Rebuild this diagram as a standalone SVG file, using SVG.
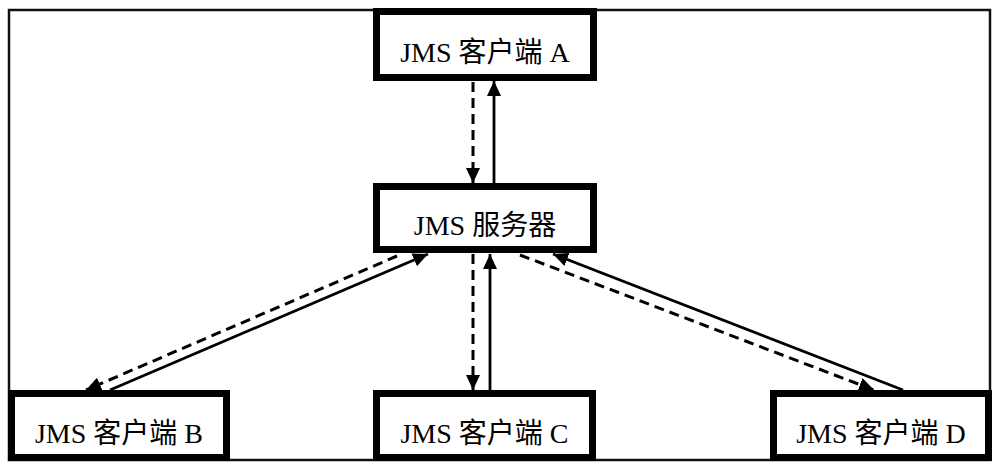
<svg xmlns="http://www.w3.org/2000/svg" width="1000" height="471" viewBox="0 0 1000 471">
<style>
.frame{fill:none;stroke:#111;stroke-width:2.5}
.box{fill:#fff;stroke:#000;stroke-width:7}
.lbl{font-family:"Liberation Serif","Noto Sans CJK SC",serif;font-size:28px;fill:#000;text-anchor:middle}
.solid{stroke:#000;stroke-width:2.8;fill:none}
.dash{stroke:#000;stroke-width:3;fill:none;stroke-dasharray:10 6}
</style>
<defs>
<marker id="ah" viewBox="0 0 15 14" refX="15" refY="7" markerWidth="15" markerHeight="14" markerUnits="userSpaceOnUse" orient="auto">
<path d="M0,0 L15,7 L0,14 Z" fill="#000"/>
</marker>
</defs>
<rect class="frame" x="9" y="10" width="981" height="450"/>
<g id="connectors">
<line class="dash" x1="473" y1="82" x2="473" y2="183" marker-end="url(#ah)"/>
<line class="solid" x1="494" y1="183" x2="494" y2="81" marker-end="url(#ah)"/>
<line class="dash" x1="473" y1="254" x2="473" y2="390" marker-end="url(#ah)"/>
<line class="solid" x1="490" y1="390" x2="490" y2="254" marker-end="url(#ah)"/>
<line class="dash" x1="397" y1="256" x2="86" y2="390" marker-end="url(#ah)"/>
<line class="solid" x1="110" y1="390" x2="428" y2="254" marker-end="url(#ah)"/>
<line class="dash" x1="520" y1="255" x2="874" y2="390" marker-end="url(#ah)"/>
<line class="solid" x1="903" y1="390" x2="553" y2="254" marker-end="url(#ah)"/>
</g>
<g id="clientA">
<rect class="box" x="376.5" y="11.5" width="217" height="66"/>
<text class="lbl" x="485" y="62">JMS 客户端 A</text>
</g>
<g id="server">
<rect class="box" x="376.5" y="186.5" width="217" height="63"/>
<text class="lbl" x="485" y="235">JMS 服务器</text>
</g>
<g id="clientB">
<rect class="box" x="11.5" y="393.5" width="215" height="64"/>
<text class="lbl" x="119" y="443">JMS 客户端 B</text>
</g>
<g id="clientC">
<rect class="box" x="376.5" y="393.5" width="216" height="64"/>
<text class="lbl" x="484.5" y="443">JMS 客户端 C</text>
</g>
<g id="clientD">
<rect class="box" x="773.5" y="393.5" width="215" height="64"/>
<text class="lbl" x="881" y="443">JMS 客户端 D</text>
</g>
</svg>
